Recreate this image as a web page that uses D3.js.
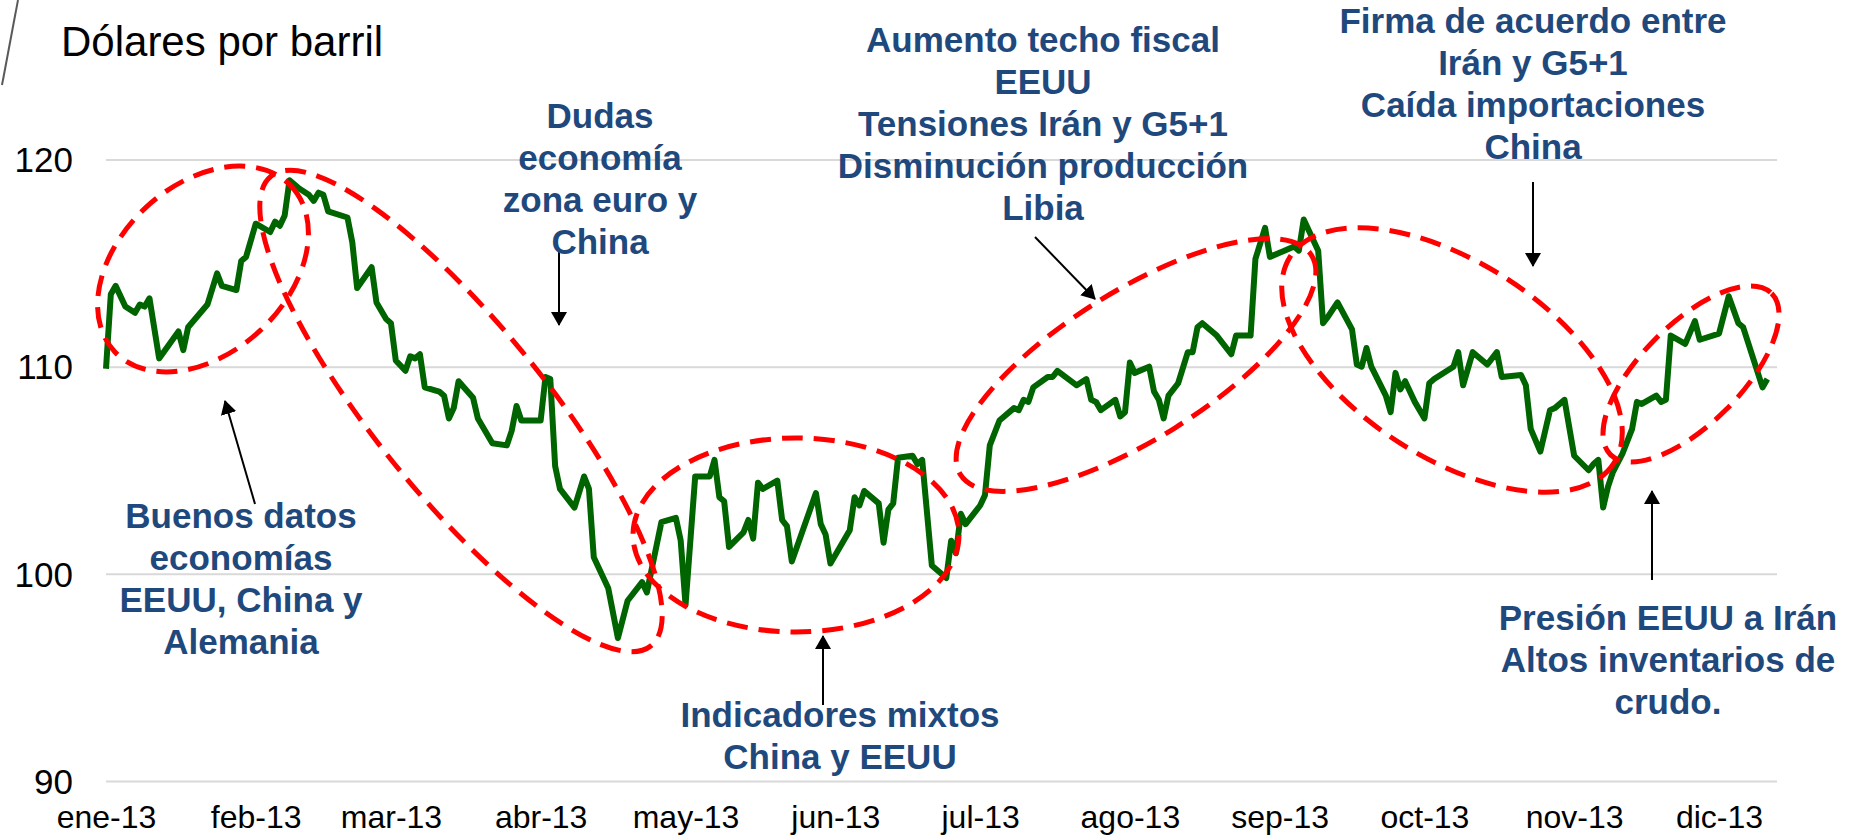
<!DOCTYPE html>
<html>
<head>
<meta charset="utf-8">
<script src="https://cdn.jsdelivr.net/npm/d3@7"></script>
<style>
  body { margin: 0; background: #fff; }
  svg { display: block; font-family: "Liberation Sans", Arial, sans-serif; }
</style>
</head>
<body>
<svg width="1852" height="838"></svg>
<script>
// Brent, dólares por barril (2013)
const fechas = [
  "2013-01-01","2013-01-02","2013-01-03","2013-01-05","2013-01-07","2013-01-08","2013-01-09","2013-01-10","2013-01-12","2013-01-16","2013-01-17","2013-01-18","2013-01-22","2013-01-24","2013-01-25","2013-01-28","2013-01-29","2013-01-30",
  "2013-02-01","2013-02-04","2013-02-05","2013-02-06","2013-02-07","2013-02-08","2013-02-10","2013-02-12","2013-02-13","2013-02-14","2013-02-15","2013-02-16","2013-02-20","2013-02-21","2013-02-22","2013-02-25","2013-02-26","2013-02-28",
  "2013-03-01","2013-03-02","2013-03-04","2013-03-05","2013-03-06","2013-03-07","2013-03-08","2013-03-11","2013-03-12","2013-03-13","2013-03-14","2013-03-15","2013-03-18","2013-03-19","2013-03-22","2013-03-25","2013-03-26","2013-03-27","2013-03-28",
  "2013-04-01","2013-04-02","2013-04-03","2013-04-04","2013-04-05","2013-04-08","2013-04-10","2013-04-11","2013-04-12","2013-04-15","2013-04-17","2013-04-19","2013-04-22","2013-04-23","2013-04-26","2013-04-29","2013-04-30",
  "2013-05-01","2013-05-03","2013-05-06","2013-05-07","2013-05-08","2013-05-09","2013-05-10","2013-05-13","2013-05-14","2013-05-15","2013-05-16","2013-05-17","2013-05-20","2013-05-21","2013-05-22","2013-05-23","2013-05-28","2013-05-29","2013-05-30","2013-05-31",
  "2013-06-04","2013-06-05","2013-06-06","2013-06-07","2013-06-10","2013-06-11","2013-06-12","2013-06-13","2013-06-14","2013-06-17","2013-06-18","2013-06-19","2013-06-21","2013-06-24","2013-06-25","2013-06-26","2013-06-27","2013-06-28",
  "2013-07-01","2013-07-02","2013-07-03","2013-07-05","2013-07-08","2013-07-09","2013-07-10","2013-07-11","2013-07-12","2013-07-15","2013-07-16","2013-07-17","2013-07-21","2013-07-23","2013-07-24","2013-07-25","2013-07-26","2013-07-29","2013-07-30","2013-07-31",
  "2013-08-01","2013-08-02","2013-08-05","2013-08-06","2013-08-07","2013-08-08","2013-08-09","2013-08-11","2013-08-13","2013-08-14","2013-08-15","2013-08-16","2013-08-19","2013-08-22","2013-08-23","2013-08-26","2013-08-27","2013-08-29","2013-08-30",
  "2013-09-02","2013-09-04","2013-09-05","2013-09-06","2013-09-09","2013-09-10","2013-09-11","2013-09-13","2013-09-16","2013-09-17","2013-09-18","2013-09-19","2013-09-20","2013-09-23","2013-09-24","2013-09-25","2013-09-26","2013-09-27","2013-09-29",
  "2013-10-01","2013-10-02","2013-10-03","2013-10-07","2013-10-08","2013-10-09","2013-10-11","2013-10-14","2013-10-16","2013-10-17","2013-10-21","2013-10-22","2013-10-23","2013-10-25","2013-10-27","2013-10-28","2013-10-30",
  "2013-11-01","2013-11-04","2013-11-05","2013-11-06","2013-11-07","2013-11-08","2013-11-09","2013-11-11","2013-11-13","2013-11-14","2013-11-15","2013-11-18","2013-11-19","2013-11-20","2013-11-21","2013-11-24","2013-11-26","2013-11-27",
  "2013-12-01","2013-12-03","2013-12-05","2013-12-06","2013-12-10","2013-12-11"
];
const precios = [
  109.9,113.5,113.9,112.9,112.6,113.0,112.9,113.3,110.4,111.7,110.8,111.9,113.0,114.5,113.9,113.7,115.1,115.3,
  116.9,116.5,117.0,116.8,117.3,119.0,118.6,118.3,118.0,118.4,118.3,117.5,117.2,116.0,113.8,114.8,113.1,112.3,
  112.1,110.3,109.8,110.5,110.4,110.6,109.0,108.8,108.6,107.5,108.0,109.3,108.5,107.5,106.3,106.2,106.9,108.1,107.4,
  107.4,109.5,109.4,105.2,104.1,103.2,104.7,104.1,100.8,99.3,96.9,98.7,99.6,99.1,102.5,102.7,101.6,
  98.5,104.7,104.7,105.5,103.7,103.5,101.3,102.0,102.6,101.7,104.4,104.1,104.5,102.6,102.3,100.6,103.9,102.4,101.9,100.5,
  102.1,103.7,103.3,104.0,103.4,101.5,103.1,103.4,105.6,105.7,105.3,105.5,100.4,99.8,101.6,101.0,102.9,102.4,
  103.3,103.8,106.2,107.4,108.0,107.9,108.4,108.3,109.0,109.5,109.5,109.8,109.1,109.4,108.4,108.3,107.9,108.4,107.6,107.8,
  110.2,109.7,110.0,108.8,108.4,107.5,108.6,109.2,110.7,110.7,111.9,112.1,111.5,110.6,111.5,111.5,115.2,116.7,115.3,
  115.6,115.8,115.6,117.1,115.6,112.1,112.4,113.1,111.8,110.1,110.0,110.9,110.0,108.6,107.8,109.7,108.9,109.3,108.3,
  107.5,109.2,109.4,110.0,110.7,109.1,110.7,110.1,110.7,109.5,109.6,109.1,107.0,105.9,107.9,108.0,108.4,
  105.7,105.0,105.3,105.5,103.2,104.2,104.9,105.8,107.0,108.3,108.2,108.6,108.3,108.4,111.5,111.1,112.2,111.3,
  111.6,113.4,112.1,111.9,109.0,109.4
];
const yTicks = [90, 100, 110, 120];
const mesesEtiquetas = ["ene-13","feb-13","mar-13","abr-13","may-13","jun-13","jul-13","ago-13","sep-13","oct-13","nov-13","dic-13"];

const notas = [
  { lines: ["Buenos datos", "economías", "EEUU, China y", "Alemania"], x: 241, y: 528 },
  { lines: ["Dudas", "economía", "zona euro y", "China"], x: 600, y: 128 },
  { lines: ["Aumento techo fiscal", "EEUU", "Tensiones Irán y G5+1", "Disminución producción", "Libia"], x: 1043, y: 52 },
  { lines: ["Indicadores mixtos", "China y EEUU"], x: 840, y: 727 },
  { lines: ["Firma de acuerdo entre", "Irán y G5+1", "Caída importaciones", "China"], x: 1533, y: 33 },
  { lines: ["Presión EEUU a Irán", "Altos inventarios de", "crudo."], x: 1668, y: 630 }
];

// dashed ellipses (pixel layout): cx, cy, rx, ry, rotation
const elipses = [
  [203, 269, 121, 84, -43],
  [461, 411, 302, 85, 51],
  [796, 535, 163, 97, 0],
  [1136, 365, 207, 74, -32],
  [1452, 360, 192, 98, 32.5],
  [1691, 374, 114, 50, -45]
];

// arrows: from -> tip
const flechas = [
  [255, 504, 225, 401],
  [559, 250, 559, 325],
  [1035, 237, 1095, 299],
  [823, 705, 823, 636],
  [1533, 182, 1533, 266],
  [1652, 580, 1652, 491]
];

const width = 1852;
const height = 838;
const left = 106, right = 1777;
const parse = d3.timeParse("%Y-%m-%d");
const data = fechas.map((f, i) => ({ date: parse(f), value: precios[i] }));

const x = d3.scaleTime()
  .domain([parse("2013-01-01"), parse("2013-12-13")])
  .range([left, right]);

const y = d3.scaleLinear()
  .domain([90, 120])
  .range([781, 159.5]);

const svg = d3.select("svg");

// y axis + gridlines
const gy = svg.append("g")
  .attr("transform", `translate(${left},0)`)
  .call(d3.axisLeft(y)
    .tickValues(yTicks)
    .tickSize(-(right - left))
    .tickPadding(33)
    .tickFormat(d3.format("d")));
gy.select(".domain").remove();
gy.selectAll(".tick line").attr("stroke", "#d9d9d9").attr("stroke-width", 2);
gy.selectAll(".tick text")
  .attr("fill", "#000")
  .style("font-size", "35px")
  .attr("dy", "0.35em");

// x axis
const gx = svg.append("g")
  .attr("transform", `translate(0,781)`)
  .call(d3.axisBottom(x)
    .ticks(d3.timeMonth.every(1))
    .tickSize(0)
    .tickFormat(d => mesesEtiquetas[d.getMonth()]));
gx.select(".domain").remove();
gx.selectAll(".tick text")
  .attr("fill", "#000")
  .attr("y", 47)
  .attr("dy", null)
  .style("font-size", "32px");

// title + corner slash
svg.append("line")
  .attr("x1", 18).attr("y1", 0)
  .attr("x2", 2).attr("y2", 85)
  .attr("stroke", "#595959")
  .attr("stroke-width", 2);

svg.append("text")
  .attr("x", 61)
  .attr("y", 56)
  .style("font-size", "42px")
  .attr("fill", "#000")
  .text("Dólares por barril");

// price line
const line = d3.line()
  .x(d => x(d.date))
  .y(d => y(d.value));

svg.append("path")
  .datum(data)
  .attr("fill", "none")
  .attr("stroke", "#006400")
  .attr("stroke-width", 6)
  .attr("stroke-linejoin", "round")
  .attr("d", line);

// red dashed ellipses
svg.append("g")
  .selectAll("ellipse")
  .data(elipses)
  .join("ellipse")
    .attr("transform", d => `translate(${d[0]},${d[1]}) rotate(${d[4]})`)
    .attr("rx", d => d[2])
    .attr("ry", d => d[3])
    .attr("fill", "none")
    .attr("stroke", "#ff0000")
    .attr("stroke-width", 5)
    .attr("stroke-dasharray", "21,11");

// arrows
svg.append("defs").append("marker")
  .attr("id", "head")
  .attr("viewBox", "0 -8 14 16")
  .attr("refX", 13)
  .attr("refY", 0)
  .attr("markerUnits", "userSpaceOnUse")
  .attr("markerWidth", 14)
  .attr("markerHeight", 16)
  .attr("orient", "auto")
  .append("path")
    .attr("d", "M0,-8L14,0L0,8Z")
    .attr("fill", "#000");

svg.append("g")
  .selectAll("line")
  .data(flechas)
  .join("line")
    .attr("x1", d => d[0]).attr("y1", d => d[1])
    .attr("x2", d => d[2]).attr("y2", d => d[3])
    .attr("stroke", "#000")
    .attr("stroke-width", 2)
    .attr("marker-end", "url(#head)");

// annotation texts
const nt = svg.append("g")
  .selectAll("text")
  .data(notas)
  .join("text")
    .attr("text-anchor", "middle")
    .attr("fill", "#1f497d")
    .style("font-size", "35px")
    .style("font-weight", "bold");

nt.selectAll("tspan")
  .data(d => d.lines.map((l, i) => ({ l, i, x: d.x, y: d.y })))
  .join("tspan")
    .attr("x", d => d.x)
    .attr("y", d => d.y + d.i * 42)
    .text(d => d.l);
</script>
</body>
</html>
